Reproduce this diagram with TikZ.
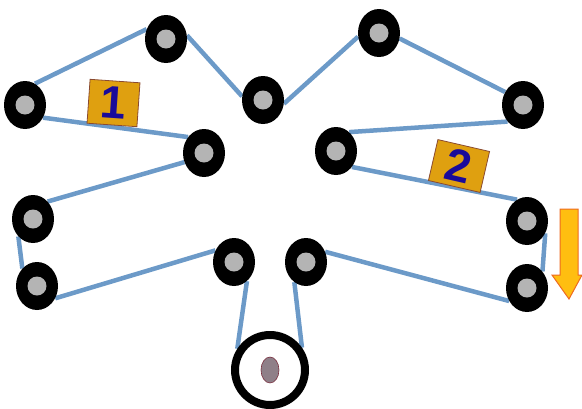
\documentclass[tikz,border=0pt]{standalone}
\usepackage{fontspec}
\setmainfont{Liberation Sans}
\usetikzlibrary{shapes.geometric,backgrounds}
\definecolor{beltblue}{HTML}{6C9AC8}
\definecolor{hubgrey}{HTML}{B4B4B4}
\definecolor{tagfill}{HTML}{DFA010}
\definecolor{tagedge}{HTML}{8A4A30}
\definecolor{tagtext}{HTML}{1A0A9A}
\definecolor{arrowfill}{HTML}{FFBE10}
\definecolor{arrowedge}{HTML}{EE6A20}
\definecolor{hubfill}{HTML}{8F7F88}
\definecolor{hubedge}{HTML}{7A3040}
\tikzset{
  pulley/.style={ellipse,fill=black,draw=none,inner sep=0pt,minimum width=42pt,minimum height=48pt,
    path picture={\fill[hubgrey] (path picture bounding box.center) circle (9.5pt);}},
  drive/.style={ellipse,fill=white,draw=black,line width=8pt,inner sep=0pt,minimum width=70pt,minimum height=70pt},
  hub/.style={ellipse,fill=hubfill,draw=hubedge,line width=0.6pt,inner sep=0pt,minimum width=18pt,minimum height=26pt},
  belt/.style={draw=beltblue,line width=4.5pt},
  tag/.style={draw=tagedge,line width=0.8pt,fill=tagfill,text=tagtext,inner sep=0pt,font=\bfseries\fontsize{46}{46}\selectfont},
}
\begin{document}
\begin{tikzpicture}[x=1pt,y=-1pt]
\useasboundingbox (0,0) rectangle (582,408);
\node[pulley] (a) at (25,105) {};
\node[pulley] (b) at (166,39) {};
\node[pulley] (c) at (263,100) {};
\node[pulley] (d) at (204,153) {};
\node[pulley] (e) at (33,219) {};
\node[pulley] (f) at (37,286) {};
\node[pulley] (g) at (234,262) {};
\node[pulley] (h) at (306,262) {};
\node[pulley] (i) at (379,33) {};
\node[pulley] (j) at (523,105) {};
\node[pulley] (k) at (336,151) {};
\node[pulley] (l) at (527,221) {};
\node[pulley] (m) at (527,288) {};
\node[drive] (dr) at (270,370) {};
\node[hub] (hb) at (270,370) {};
\begin{scope}[on background layer]
\draw[belt] (a.65) -- (b.153);
\draw[belt] (b.10) -- (c.170);
\draw[belt] (c.350) -- (i.190);
\draw[belt] (i.345) -- (j.144);
\draw[belt] (j.227) -- (k.55);
\draw[belt] (k.315) -- (l.115);
\draw[belt] (l.326) -- (m.47);
\draw[belt] (m.216) -- (h.28);
\draw[belt] (h.240) -- (dr.35);
\draw[belt] (g.304) -- (dr.147);
\draw[belt] (g.148) -- (f.326);
\draw[belt] (f.130) -- (e.230);
\draw[belt] (e.50) -- (d.205);
\draw[belt] (d.135) -- (a.325);
\end{scope}
\node[tag,minimum width=50pt,minimum height=44pt,rotate=-4] (t1) at (113.5,103) {1};
\node[tag,minimum width=53pt,minimum height=42pt,rotate=-13] (t2) at (459,166) {2};
\draw[draw=arrowedge,line width=1pt,fill=arrowfill]
  (560,209) -- (578,209) -- (578,275) -- (582,275) -- (569,299) -- (552,275) -- (560,275) -- cycle;
\end{tikzpicture}
\end{document}
